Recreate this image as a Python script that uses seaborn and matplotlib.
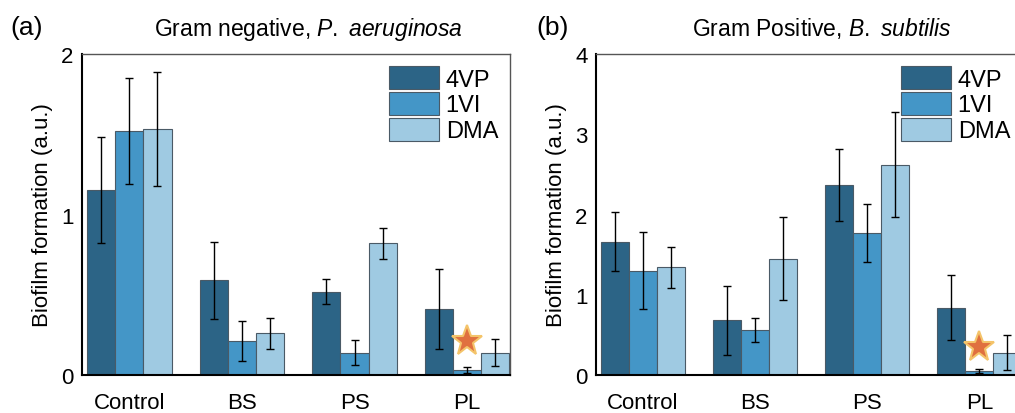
import numpy as np
import pandas as pd
import matplotlib
matplotlib.use("Agg")
from matplotlib import pyplot as plt
from matplotlib.ticker import MultipleLocator
import seaborn as sns

surfaces = ['Control', 'BS', 'PS', 'PL']
polymers = ['4VP', '1VI', 'DMA']
colors = ['#2c6486', '#4496c7', '#9fcae2']

# Gram negative, P. aeruginosa
pa_4vp = [1.15, 0.59, 0.52, 0.41]
pa_1vi = [1.52, 0.21, 0.14, 0.03]
pa_dma = [1.53, 0.26, 0.82, 0.14]
pa_4vp_err = [0.33, 0.24, 0.08, 0.25]
pa_1vi_err = [0.33, 0.125, 0.075, 0.02]
pa_dma_err = [0.355, 0.095, 0.097, 0.085]

# Gram positive, B. subtilis
bs_4vp = [1.66, 0.68, 2.37, 0.84]
bs_1vi = [1.30, 0.56, 1.77, 0.05]
bs_dma = [1.34, 1.45, 2.62, 0.28]
bs_4vp_err = [0.365, 0.425, 0.446, 0.40]
bs_1vi_err = [0.48, 0.153, 0.36, 0.03]
bs_dma_err = [0.25, 0.514, 0.657, 0.22]

star_a = 0.21
star_b = 0.35


def make_df(v1, v2, v3):
    rows = []
    for p, vals in zip(polymers, [v1, v2, v3]):
        for s, v in zip(surfaces, vals):
            rows.append({'surface': s, 'polymer': p, 'value': v})
    return pd.DataFrame(rows)


def panel(ax, df, errs, ymax, title, star_y):
    sns.barplot(data=df, x='surface', y='value', hue='polymer', order=surfaces,
                hue_order=polymers, palette=colors, width=0.75, gap=0,
                edgecolor='#4a5a66', linewidth=0.8, saturation=1, errorbar=None, ax=ax)
    for cont, err in zip(ax.containers, errs):
        xs = [b.get_x() + b.get_width() / 2 for b in cont]
        ys = [b.get_height() for b in cont]
        ax.errorbar(xs, ys, yerr=err, fmt='none', ecolor='black', elinewidth=1,
                    capsize=3, capthick=1, zorder=5)
    ax.plot([3], [star_y], marker='*', markersize=23, color='#e0703f',
            markeredgecolor='#f4c46a', markeredgewidth=1.5, zorder=6)
    ax.set_ylim(0, ymax)
    ax.set_xlim(-0.42, 3.38)
    ax.yaxis.set_major_locator(MultipleLocator(1))
    ax.yaxis.set_minor_locator(MultipleLocator(0.5))
    ax.tick_params(axis='y', which='both', direction='in', labelsize=16, pad=6)
    ax.tick_params(axis='y', which='major', length=5)
    ax.tick_params(axis='y', which='minor', length=3)
    ax.tick_params(axis='x', length=0, labelsize=16, pad=12)
    ax.set_xlabel('')
    ax.set_ylabel('Biofilm formation (a.u.)', fontsize=16, labelpad=6)
    ax.set_title(title, fontsize=16.5, pad=14, x=0.53)
    for s in ['left', 'bottom']:
        ax.spines[s].set_color('black')
        ax.spines[s].set_linewidth(1.5)
    for s in ['top', 'right']:
        ax.spines[s].set_color('#555555')
        ax.spines[s].set_linewidth(1)
    ax.legend(loc='upper right', frameon=False, fontsize=17, handlelength=2.1,
              handleheight=1.15, labelspacing=0.05, handletextpad=0.3,
              borderpad=0.3, borderaxespad=0.2)


sns.set_style('white')
plt.rcParams['font.family'] = ['Liberation Sans', 'DejaVu Sans']
plt.rcParams['mathtext.fontset'] = 'custom'
plt.rcParams['mathtext.rm'] = 'Liberation Sans'
plt.rcParams['mathtext.it'] = 'Liberation Sans:italic'
for key in ['text.color', 'axes.labelcolor', 'xtick.color', 'ytick.color']:
    plt.rcParams[key] = 'black'

fig = plt.figure(figsize=(10.15, 4.14), dpi=100)
ax1 = fig.add_axes([82 / 1015, 1 - 376 / 414, 428 / 1015, 321 / 414])
ax2 = fig.add_axes([596 / 1015, 1 - 376 / 414, 426 / 1015, 321 / 414])

panel(ax1, make_df(pa_4vp, pa_1vi, pa_dma), [pa_4vp_err, pa_1vi_err, pa_dma_err], 2,
      'Gram negative, $\\mathit{P.}$ $\\mathit{aeruginosa}$', star_a)
panel(ax2, make_df(bs_4vp, bs_1vi, bs_dma), [bs_4vp_err, bs_1vi_err, bs_dma_err], 4,
      'Gram Positive, $\\mathit{B.}$ $\\mathit{subtilis}$', star_b)

fig.text(10 / 1015, 1 - 28 / 414, '(a)', fontsize=19, va='center')
fig.text(536 / 1015, 1 - 28 / 414, '(b)', fontsize=19, va='center')

fig.savefig('out.png', dpi=100)
